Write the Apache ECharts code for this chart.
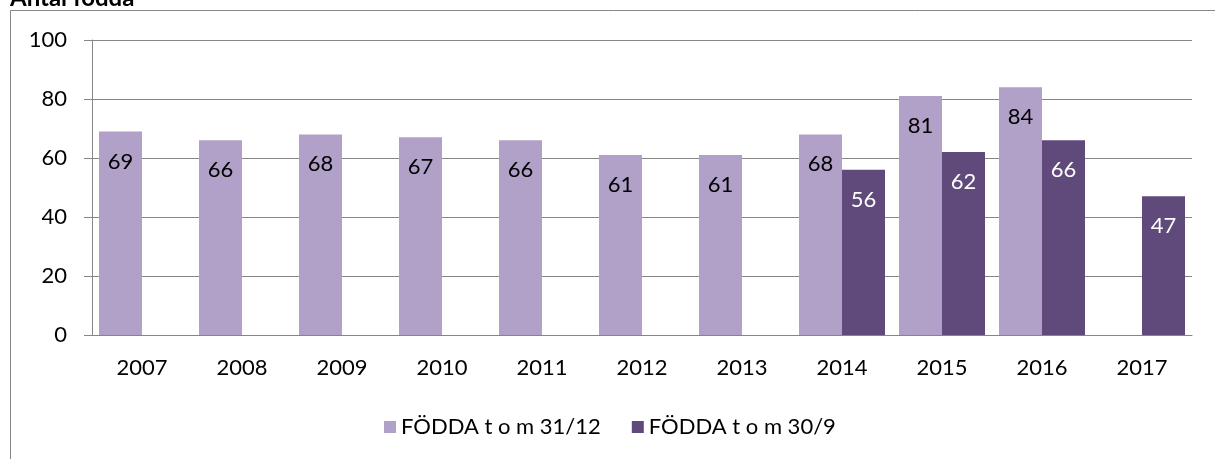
<!DOCTYPE html>
<html>
<head>
<meta charset="utf-8">
<script src="https://cdn.jsdelivr.net/npm/echarts@6/dist/echarts.min.js"></script>
<style>
  html, body { margin: 0; padding: 0; background: #fff; }
  #main { width: 1215px; height: 459px; }
</style>
</head>
<body>
<div id="main"></div>
<script>
// data
const years = ["2007", "2008", "2009", "2010", "2011", "2012", "2013", "2014", "2015", "2016", "2017"];
const foddaDec = [69, 66, 68, 67, 66, 61, 61, 68, 81, 84, null];
const foddaSep = [null, null, null, null, null, null, null, 56, 62, 66, 47];
const yTicks = { min: 0, max: 100, interval: 20 };

const font = "Lato";
const grey = "#868686";
const fs = 22;

const myChart = echarts.init(document.getElementById("main"));

const option = {
  animation: false,
  textStyle: { fontFamily: font },
  graphic: [
    {
      type: "rect",
      shape: { x: 10.5, y: 10.5, width: 1400, height: 600 },
      style: { fill: "none", stroke: grey, lineWidth: 1 },
      silent: true
    },
    {
      type: "text",
      left: 10,
      top: -14,
      style: { text: "Antal födda", font: "bold 24px Lato", fill: "#000" }
    }
  ],
  grid: { left: 92, right: 23, top: 40, bottom: 124 },
  legend: {
    left: 379,
    top: 411,
    itemWidth: 12,
    itemHeight: 12,
    itemGap: 31,
    icon: "rect",
    textStyle: { fontSize: fs, color: "#000", fontFamily: font },
    data: ["FÖDDA t o m 31/12", "FÖDDA t o m 30/9"]
  },
  xAxis: {
    type: "category",
    data: years,
    axisLine: { lineStyle: { color: grey } },
    axisTick: { length: 8, lineStyle: { color: grey } },
    axisLabel: { fontSize: fs, color: "#000", margin: 22, fontFamily: font }
  },
  yAxis: {
    type: "value",
    min: yTicks.min,
    max: yTicks.max,
    interval: yTicks.interval,
    axisLine: { show: true, lineStyle: { color: grey } },
    axisTick: { show: true, length: 8, lineStyle: { color: grey } },
    axisLabel: { fontSize: fs, color: "#000", margin: 25, fontFamily: font },
    splitLine: { lineStyle: { color: grey } }
  },
  series: [
    {
      name: "FÖDDA t o m 31/12",
      type: "bar",
      data: foddaDec,
      barGap: 0,
      barCategoryGap: "14%",
      itemStyle: { color: "#B1A0C7" },
      label: {
        show: true,
        position: "insideTop",
        distance: 19,
        fontSize: fs,
        color: "#000",
        fontFamily: font
      }
    },
    {
      name: "FÖDDA t o m 30/9",
      type: "bar",
      data: foddaSep,
      barGap: 0,
      barCategoryGap: "14%",
      itemStyle: { color: "#604A7B" },
      label: {
        show: true,
        position: "insideTop",
        distance: 19,
        fontSize: fs,
        color: "#fff",
        fontFamily: font
      }
    }
  ]
};

myChart.setOption(option);
</script>
</body>
</html>
